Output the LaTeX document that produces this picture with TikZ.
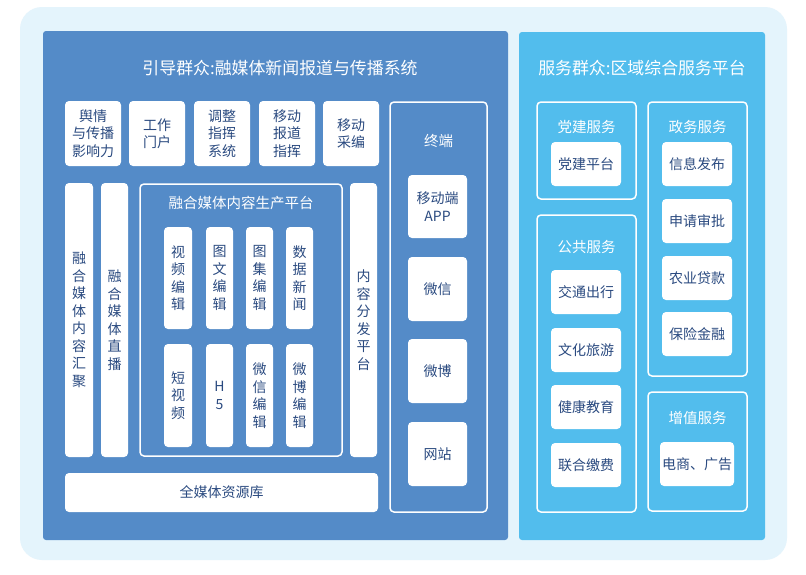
\documentclass[tikz,border=0pt]{standalone}
\usepackage{fontspec}
\setmainfont{Noto Sans CJK SC}
\definecolor{bgc}{HTML}{E4F4FC}
\definecolor{leftc}{HTML}{548BC8}
\definecolor{rightc}{HTML}{52BDED}
\definecolor{txt}{HTML}{2A4A80}
\newcommand{\BX}[7][]{\node[#1, minimum width={#5-#3}, minimum height={#6-#4}] (#2) at ({(#3+#5)/2},{(#4+#6)/2}) {#7};}
\tikzset{
  wbox/.style={fill=white, rounded corners=4pt, inner sep=0pt, align=center, text=txt, font=\fontsize{14}{17.5}\selectfont},
  frame/.style={draw=white, line width=1.5pt, rounded corners=4pt, inner sep=0pt},
  ttl/.style={text=white, font=\fontsize{16.9}{20}\selectfont, inner sep=0pt},
  sttl/.style={text=white, font=\fontsize{14.5}{17}\selectfont, inner sep=0pt},
}
\begin{document}
\begin{tikzpicture}[x=1pt,y=-1pt]
\useasboundingbox (0,0) rectangle (806,574);
\fill[white] (0,0) rectangle (806,574);
\BX[fill=bgc, rounded corners=22pt]{bg}{20}{7}{787}{560}{}
\BX[fill=leftc, rounded corners=3pt]{lp}{43}{31}{508}{540}{}
\BX[fill=rightc, rounded corners=3pt]{rp}{519}{32}{765}{540}{}
\node[ttl] (lt) at (280,68) {引导群众:融媒体新闻报道与传播系统};
\node[ttl] (rt) at (642,68) {服务群众:区域综合服务平台};
% top row
\BX[wbox]{t1}{65}{101}{121}{166}{舆情\\与传播\\影响力}
\BX[wbox]{t2}{129}{101}{185}{166}{工作\\门户}
\BX[wbox]{t3}{194}{101}{250}{166}{调整\\指挥\\系统}
\BX[wbox]{t4}{259}{101}{315}{166}{移动\\报道\\指挥}
\BX[wbox]{t5}{323}{101}{379}{166}{移动\\采编}
% terminal
\BX[frame]{term}{390}{102}{487}{512}{}
\node[sttl] (termt) at (438.5,141) {终端};
\BX[wbox]{app}{408}{175}{467}{238}{移动端\\APP}
\BX[wbox]{wx}{408}{257}{467}{321}{微信}
\BX[wbox]{wb}{408}{339}{467}{403}{微博}
\BX[wbox]{web}{408}{422}{467}{486}{网站}
% vertical columns
\BX[wbox]{hj}{65}{183}{93}{457}{融\\合\\媒\\体\\内\\容\\汇\\聚}
\BX[wbox]{zb}{101}{183}{128}{457}{融\\合\\媒\\体\\直\\播}
\BX[wbox]{ff}{350}{183}{377}{457}{内\\容\\分\\发\\平\\台}
% production platform
\BX[frame]{prod}{140}{184}{342}{456}{}
\node[sttl] (prodt) at (241,203) {融合媒体内容生产平台};
\BX[wbox]{p1}{164}{227}{192}{329}{视\\频\\编\\辑}
\BX[wbox]{p2}{206}{227}{233}{329}{图\\文\\编\\辑}
\BX[wbox]{p3}{246}{227}{273}{329}{图\\集\\编\\辑}
\BX[wbox]{p4}{286}{227}{313}{329}{数\\据\\新\\闻}
\BX[wbox]{p5}{164}{344}{192}{447}{短\\视\\频}
\BX[wbox]{p6}{206}{344}{233}{447}{H\\5}
\BX[wbox]{p7}{246}{344}{273}{447}{微\\信\\编\\辑}
\BX[wbox]{p8}{286}{344}{313}{447}{微\\博\\编\\辑}
% resource library
\BX[wbox]{lib}{65}{473}{378}{512}{全媒体资源库}
% right side
\BX[frame]{dj}{537}{102}{636}{199}{}
\node[sttl] (djt) at (586.5,127) {党建服务};
\BX[wbox]{djp}{551}{142}{621}{186}{党建平台}
\BX[frame]{gg}{537}{215}{636}{512}{}
\node[sttl] (ggt) at (586.5,247) {公共服务};
\BX[wbox]{g1}{551}{270}{621}{314}{交通出行}
\BX[wbox]{g2}{551}{328}{621}{372}{文化旅游}
\BX[wbox]{g3}{551}{385}{621}{429}{健康教育}
\BX[wbox]{g4}{551}{443}{621}{487}{联合缴费}
\BX[frame]{zw}{648}{102}{747}{376}{}
\node[sttl] (zwt) at (697.5,127) {政务服务};
\BX[wbox]{z1}{662}{142}{732}{186}{信息发布}
\BX[wbox]{z2}{662}{199}{732}{243}{申请审批}
\BX[wbox]{z3}{662}{256}{732}{300}{农业贷款}
\BX[wbox]{z4}{662}{312}{732}{356}{保险金融}
\BX[frame]{zz}{648}{392}{747}{511}{}
\node[sttl] (zzt) at (697.5,418) {增值服务};
\BX[wbox]{zzp}{660}{442}{734}{486}{电商、广告}
\end{tikzpicture}
\end{document}
